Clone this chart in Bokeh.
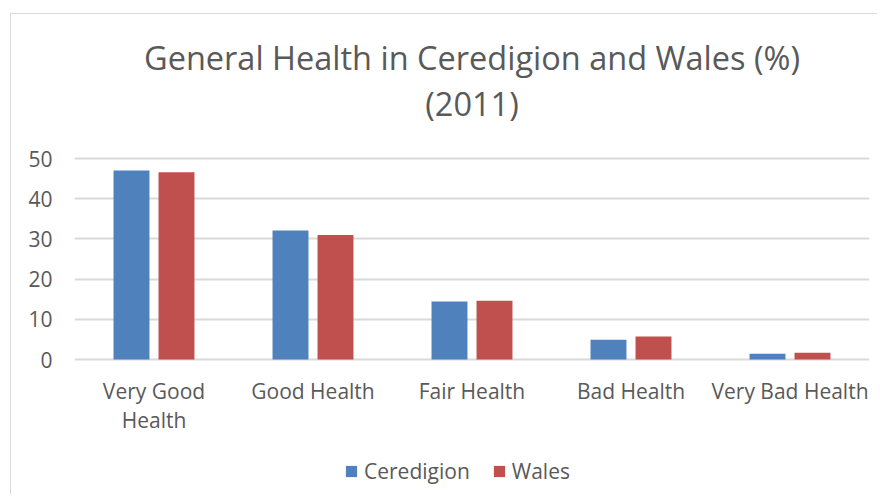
from bokeh.plotting import figure
from bokeh.models import (FactorRange, Range1d, Legend, LegendItem, Label, FixedTicker,
                          ColumnDataSource)
from bokeh.core.properties import value
from bokeh.transform import dodge
from bokeh.embed import file_html
from bokeh.resources import INLINE

categories = ["Very Good Health", "Good Health", "Fair Health", "Bad Health", "Very Bad Health"]
ceredigion = [47.0, 32.1, 14.4, 4.9, 1.4]
wales = [46.6, 31.0, 14.6, 5.7, 1.7]
y_ticks = [0, 10, 20, 30, 40, 50]
title_lines = ["General Health in Ceredigion and Wales (%)", "(2011)"]
label_line1 = ["Very Good", "Good Health", "Fair Health", "Bad Health", "Very Bad Health"]
label_line2 = ["Health", "", "", "", ""]

src = ColumnDataSource(dict(cat=categories, ceredigion=ceredigion, wales=wales,
                            l1=label_line1, l2=label_line2))

FONT = "Open Sans"
GREY = "#595959"
LBL = "21px"
PX = 201 / 50.0          # pixels per data unit on the value axis
Y_LO = -135 / PX         # room below the baseline for labels and legend
Y_HI = 50 + 142 / PX     # room above the plot for the title

p = figure(frame_width=795, frame_height=478, output_backend="svg", toolbar_location=None,
           x_range=FactorRange(factors=categories), y_range=Range1d(Y_LO, Y_HI),
           min_border_left=74, min_border_right=8, min_border_top=16, min_border_bottom=0,
           title=None)
p.outline_line_color = None
p.background_fill_alpha = 0
p.border_fill_alpha = 0
p.styles = {"background": "linear-gradient(#d9d9d9,#d9d9d9) 10px 13px / 1px 100% no-repeat, "
                          "linear-gradient(#d9d9d9,#d9d9d9) 10px 13px / 100% 1px no-repeat, white"}

r1 = p.vbar(x=dodge("cat", -0.1415, range=p.x_range), top="ceredigion", width=0.226,
            source=src, fill_color="#4f81bd", line_color=None)
r2 = p.vbar(x=dodge("cat", 0.1415, range=p.x_range), top="wales", width=0.226,
            source=src, fill_color="#c0504d", line_color=None)

# category labels (two lines) under the baseline
p.text(x="cat", y=-31 / PX, text="l1", source=src, text_font=value(FONT), text_font_size=LBL,
       text_color=GREY, text_align="center", text_baseline="middle")
p.text(x="cat", y=-60 / PX, text="l2", source=src, text_font=value(FONT), text_font_size=LBL,
       text_color=GREY, text_align="center", text_baseline="middle")

# title
for txt, dy in zip(title_lines, [101, 55]):
    p.add_layout(Label(x=2.5, y=50 + dy / PX, text=txt, text_font=FONT, text_font_size="32.5px",
                       text_color=GREY, text_align="center", text_baseline="middle"))

p.xaxis.visible = False
p.xgrid.grid_line_color = None
p.ygrid.grid_line_color = "#d9d9d9"
p.ygrid.grid_line_width = 2
p.yaxis.ticker = FixedTicker(ticks=y_ticks)
p.ygrid.ticker = FixedTicker(ticks=y_ticks)
p.yaxis.axis_line_color = None
p.yaxis.major_tick_line_color = None
p.yaxis.minor_tick_line_color = None
p.yaxis.major_label_text_font = FONT
p.yaxis.major_label_text_font_size = LBL
p.yaxis.major_label_text_color = GREY
p.yaxis.major_label_standoff = 16

legend = Legend(items=[LegendItem(label="Ceredigion", renderers=[r1]),
                       LegendItem(label="Wales", renderers=[r2])],
                orientation="horizontal", location=(270, 9),
                label_text_font=FONT, label_text_font_size="21px", label_text_color=GREY,
                glyph_width=14, glyph_height=14, spacing=22, label_standoff=6,
                border_line_color=None, background_fill_alpha=0, margin=0, padding=4)
p.add_layout(legend)

open("out.html", "w").write(file_html(p, INLINE))
